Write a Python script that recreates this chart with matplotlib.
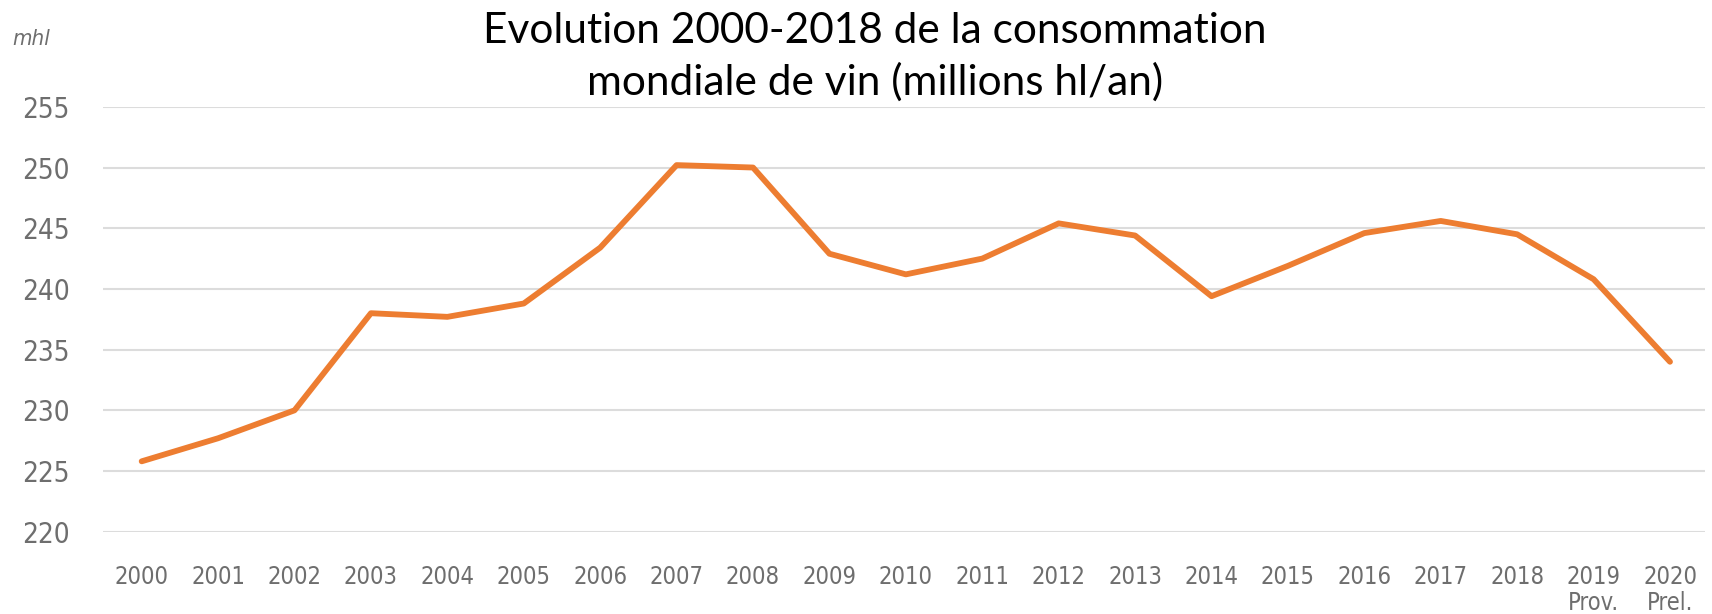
import matplotlib.pyplot as plt

years = list(range(2000, 2021))
consumption = [225.8, 227.7, 230.0, 238.0, 237.7, 238.8, 243.4, 250.2, 250.0, 242.9,
               241.2, 242.5, 245.4, 244.4, 239.4, 241.9, 244.6, 245.6, 244.5, 240.8, 234.0]
xlabels = [str(y) for y in years[:-2]] + ["2019\nProv.", "2020\nPrel."]
yticks = [220, 225, 230, 235, 240, 245, 250, 255]

narrow = ['DejaVu Sans']
grey = '#6e6e6e'

fig = plt.figure(figsize=(17.12, 6.14), dpi=100)
ax = fig.add_axes([0.060, 0.134, 0.936, 0.692])

ax.plot(years, consumption, color='#ED7D31', linewidth=4.2, solid_capstyle='round', zorder=3)

ax.set_ylim(220, 255)
ax.set_xlim(1999.49, 2020.46)
ax.set_yticks(yticks)
ax.set_xticks(years)
ax.set_xticklabels(xlabels, fontsize=17, color=grey, family=narrow, stretch='condensed', linespacing=1.1)
ax.set_yticklabels([str(v) for v in yticks], fontsize=20, color=grey, family=narrow, stretch='condensed')
ax.tick_params(axis='x', length=0, pad=24)
ax.tick_params(axis='y', length=0, pad=24)
ax.yaxis.grid(True, color='#dcdcdc', linewidth=1.5)
ax.set_axisbelow(True)
for s in ax.spines.values():
    s.set_visible(False)

fig.text(0.007, 0.936, "mhl", fontsize=16, color=grey, style='italic', family=narrow, stretch='condensed', va='center')
# two-line title sitting above the plot
fig.text(0.511, 0.949, "Evolution 2000-2018 de la consommation", fontsize=30.5,
         family=['Lato', 'DejaVu Sans'], ha='center', va='center', color='black')
fig.text(0.511, 0.866, "mondiale de vin (millions hl/an)", fontsize=30.5,
         family=['Lato', 'DejaVu Sans'], ha='center', va='center', color='black')

fig.savefig('out.png', dpi=100)
